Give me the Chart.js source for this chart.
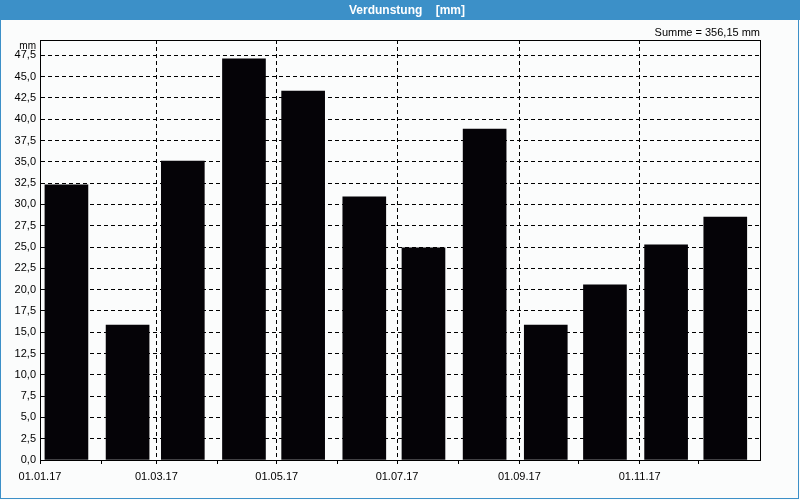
<!DOCTYPE html>
<html>
<head>
<meta charset="utf-8">
<script src="https://cdn.jsdelivr.net/npm/chart.js@4.4.1/dist/chart.umd.min.js"></script>
<style>
html,body{margin:0;padding:0;background:#fbfcfc;}
canvas{display:block;}
</style>
</head>
<body>
<canvas id="c" width="800" height="500"></canvas>
<script>
// ---- texts ----
const titleText = 'Verdunstung    [mm]';
const sumText = 'Summe = 356,15 mm';
const unitText = 'mm';

// ---- data ----
const months = ['01.01.17','01.02.17','01.03.17','01.04.17','01.05.17','01.06.17',
                '01.07.17','01.08.17','01.09.17','01.10.17','01.11.17','01.12.17'];
const monthStartDays = [0,31,59,90,120,151,181,212,243,273,304,334,365];
const xTickLabels = ['01.01.17','','01.03.17','','01.05.17','','01.07.17','','01.09.17','','01.11.17','',''];
const values = [32.3,15.85,35.1,47.1,43.3,30.9,24.9,38.85,15.85,20.55,25.25,28.5];
const yTicks = [0,2.5,5,7.5,10,12.5,15,17.5,20,22.5,25,27.5,30,32.5,35,37.5,40,42.5,45,47.5];
const yMax = 49.3;
const yearDays = 365;
const barOffsetDays = 13.4;

// ---- styles ----
const blue = '#3c90c8';
const barColor = '#050307';
const fontFamily = '"Liberation Sans", Arial, sans-serif';

const points = values.map((v, i) => ({x: monthStartDays[i] + barOffsetDays, y: v}));

const framePlugin = {
  id: 'frame',
  beforeDraw(chart) {
    const c = chart.ctx;
    c.save();
    c.fillStyle = '#fbfcfc';
    c.fillRect(0, 0, chart.width, chart.height);
    c.fillStyle = blue;
    c.fillRect(0, 0, chart.width, 20);
    c.strokeStyle = blue;
    c.lineWidth = 1;
    c.strokeRect(0.5, 0.5, chart.width - 2, chart.height - 2);
    c.fillStyle = '#ffffff';
    c.font = 'bold 12px ' + fontFamily;
    c.textAlign = 'center';
    c.textBaseline = 'middle';
    c.fillText(titleText, chart.width / 2 + 7, 10.5);
    c.restore();
  },
  afterDraw(chart) {
    const c = chart.ctx;
    const a = chart.chartArea;
    c.save();
    c.strokeStyle = '#000';
    c.lineWidth = 1;
    c.setLineDash([]);
    c.strokeRect(Math.round(a.left) + 0.5, Math.round(a.top) + 0.5,
                 Math.round(a.right - a.left), Math.round(a.bottom - a.top));
    c.fillStyle = '#000';
    c.font = '11px ' + fontFamily;
    c.textAlign = 'right';
    c.textBaseline = 'middle';
    c.fillText(sumText, a.right, 33);
    c.font = '10px ' + fontFamily;
    c.fillText(unitText, a.left - 4, 46);
    c.restore();
  }
};

new Chart(document.getElementById('c'), {
  type: 'bar',
  data: {
    labels: months,
    datasets: [{
      data: points,
      backgroundColor: barColor,
      borderWidth: 0,
      barThickness: 43
    }]
  },
  options: {
    responsive: false,
    animation: false,
    devicePixelRatio: 1,
    layout: {padding: {top: 40, right: 40, left: 0, bottom: 0}},
    plugins: {
      legend: {display: false},
      tooltip: {enabled: false},
      title: {display: false}
    },
    scales: {
      x: {
        type: 'linear',
        offset: false,
        min: 0,
        max: yearDays,
        afterBuildTicks: s => { s.ticks = monthStartDays.map(v => ({value: v})); },
        afterFit: s => { s.height = 40; },
        ticks: {
          autoSkip: false,
          maxRotation: 0,
          minRotation: 0,
          padding: 6,
          color: '#000',
          font: {family: fontFamily, size: 11},
          callback: (v, i) => xTickLabels[i]
        },
        grid: {
          offset: false,
          color: c => (c.index > 0 && c.index < 12 && xTickLabels[c.index]) ? '#000' : 'rgba(0,0,0,0)',
          tickColor: c => c.index < 12 ? '#000' : 'rgba(0,0,0,0)',
          tickLength: 4,
          lineWidth: 1
        },
        border: {display: true, color: '#000', width: 1, dash: [4, 3]}
      },
      y: {
        min: 0,
        max: yMax,
        afterBuildTicks: s => { s.ticks = yTicks.map(v => ({value: v})); },
        afterFit: s => { s.width = 40; },
        ticks: {
          padding: 4,
          color: '#000',
          font: {family: fontFamily, size: 11},
          callback: v => v.toFixed(1).replace('.', ',')
        },
        grid: {
          color: c => c.index > 0 ? '#000' : 'rgba(0,0,0,0)',
          drawTicks: false,
          lineWidth: 1
        },
        border: {display: true, color: '#000', width: 1, dash: [4, 3]}
      }
    }
  },
  plugins: [framePlugin]
});
</script>
</body>
</html>
